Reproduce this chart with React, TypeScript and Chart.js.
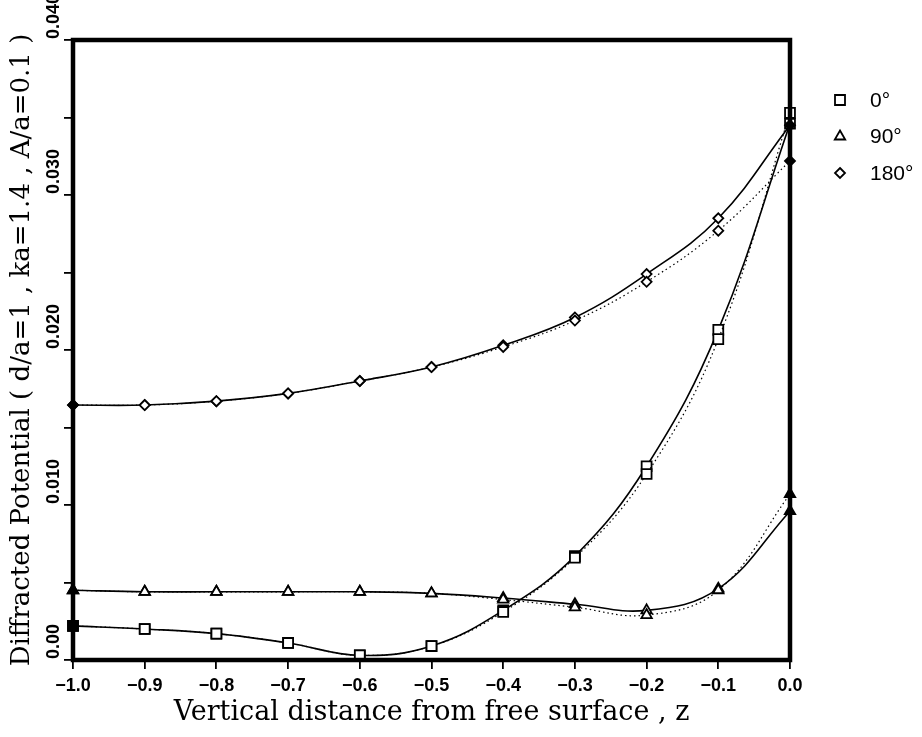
import React, { useEffect, useRef } from "react";
import { Chart, registerables } from "chart.js";

Chart.register(...registerables);

// ---- data ----
const zValues = [-1.0, -0.9, -0.8, -0.7, -0.6, -0.5, -0.4, -0.3, -0.2, -0.1, 0.0];

const deg0Solid = [0.0022, 0.002, 0.0017, 0.0011, 0.0003, 0.0009, 0.0032, 0.0067, 0.0125, 0.0213, 0.0346];
const deg0Dotted = [0.0022, 0.002, 0.0017, 0.0011, 0.0003, 0.0009, 0.0031, 0.0066, 0.012, 0.0207, 0.0353];

const deg90Solid = [0.0045, 0.0044, 0.0044, 0.0044, 0.0044, 0.0043, 0.004, 0.0036, 0.0032, 0.0046, 0.0096];
const deg90Dotted = [0.0045, 0.0044, 0.0044, 0.0044, 0.0044, 0.0043, 0.0039, 0.0034, 0.0029, 0.0045, 0.0107];

const deg180Solid = [0.01645, 0.01645, 0.0167, 0.0172, 0.018, 0.0189, 0.0203, 0.0221, 0.0249, 0.0285, 0.0345];
const deg180Dotted = [0.01645, 0.01645, 0.0167, 0.0172, 0.018, 0.0189, 0.0202, 0.0219, 0.0244, 0.0277, 0.0322];

const legendLabels = ["0°", "90°", "180°"];
const yTickValues = [0, 0.01, 0.02, 0.03, 0.04];
const yTickLabels = ["0.00", "0.010", "0.020", "0.030", "0.040"];
const xTitle = "Vertical distance from free surface , z";
const yTitle = "Diffracted Potential ( d/a=1 , ka=1.4 , A/a=0.1 )";

const TICK_FAMILY = "'Liberation Sans', Arial, sans-serif";
const YTICK_FAMILY = "'Liberation Sans Narrow', 'Liberation Sans', Arial, sans-serif";
const TITLE_FAMILY = "'DejaVu Serif', serif";

function pts(ys: number[]) {
  return zValues.map((x, i) => ({ x, y: ys[i] }));
}

function drawMarker(ctx: CanvasRenderingContext2D, style: string, x: number, y: number) {
  ctx.beginPath();
  if (style === "rect") {
    ctx.rect(x - 5, y - 5, 10, 10);
  } else if (style === "triangle") {
    ctx.moveTo(x, y - 6);
    ctx.lineTo(x + 5.2, y + 3);
    ctx.lineTo(x - 5.2, y + 3);
    ctx.closePath();
  } else {
    ctx.moveTo(x, y - 5);
    ctx.lineTo(x + 5, y);
    ctx.lineTo(x, y + 5);
    ctx.lineTo(x - 5, y);
    ctx.closePath();
  }
  ctx.fillStyle = "#fff";
  ctx.fill();
  ctx.lineWidth = 1.8;
  ctx.strokeStyle = "#000";
  ctx.stroke();
}

const framePlugin = {
  id: "frameAndLabels",
  afterDatasetsDraw(chart: any) {
    const { ctx, chartArea } = chart;
    const { left, top, right, bottom } = chartArea;
    ctx.save();
    ctx.strokeStyle = "#000";
    ctx.lineWidth = 4.5;
    ctx.strokeRect(left, top, right - left, bottom - top);
    ctx.restore();
  },
  afterDraw(chart: any) {
    const { ctx, chartArea, scales } = chart;
    const y = scales.y;
    ctx.save();
    // rotated y tick labels
    ctx.font = "bold 18px " + YTICK_FAMILY;
    ctx.fillStyle = "#000";
    ctx.textAlign = "left";
    ctx.textBaseline = "middle";
    yTickValues.forEach((v, i) => {
      const py = y.getPixelForValue(v);
      ctx.save();
      ctx.translate(chartArea.left - 19, py);
      ctx.rotate(-Math.PI / 2);
      ctx.fillText(yTickLabels[i], 1, 0);
      ctx.restore();
    });
    // legend
    const styles = ["rect", "triangle", "rectRot"];
    ctx.font = "21px 'Liberation Sans', Arial, sans-serif";
    legendLabels.forEach((lab, i) => {
      const ly = chartArea.top + 60 + i * 36.5;
      drawMarker(ctx, styles[i], chartArea.right + 50, ly);
      ctx.fillStyle = "#000";
      ctx.textAlign = "left";
      ctx.textBaseline = "middle";
      ctx.fillText(lab, chartArea.right + 80, ly + 1);
    });
    ctx.restore();
  },
};

function endFill(last: boolean) {
  return (c: any) => {
    const n = zValues.length - 1;
    if (c.dataIndex === 0) return "#000";
    if (last && c.dataIndex === n) return "#000";
    return "#fff";
  };
}

function series(data: number[], style: string, dotted: boolean, fillLast: boolean, radius: number) {
  return {
    data: pts(data),
    borderColor: "#000",
    borderWidth: dotted ? 1.2 : 1.6,
    borderDash: dotted ? [1.5, 3] : [],
    tension: 0.4,
    pointStyle: style,
    pointRadius: radius,
    pointBorderWidth: 1.8,
    pointBorderColor: "#000",
    pointBackgroundColor: endFill(fillLast),
    clip: false as any,
    fill: false,
  };
}

export default function App() {
  const ref = useRef<HTMLCanvasElement | null>(null);
  useEffect(() => {
    if (!ref.current) return;
    const chart = new Chart(ref.current, {
      type: "line",
      data: {
        datasets: [
          series(deg180Dotted, "rectRot", true, true, 5),
          series(deg180Solid, "rectRot", false, true, 5),
          series(deg0Dotted, "rect", true, false, 7),
          series(deg0Solid, "rect", false, false, 7),
          series(deg90Dotted, "triangle", true, true, 6),
          series(deg90Solid, "triangle", false, true, 6),
        ] as any,
      },
      options: {
        animation: false,
        responsive: false,
        events: [],
        layout: { padding: { left: 0, right: 132, top: 40, bottom: 0 } },
        plugins: {
          legend: { display: false },
          tooltip: { enabled: false },
        },
        scales: {
          x: {
            type: "linear",
            min: -1,
            max: 0,
            ticks: {
              stepSize: 0.1,
              color: "#000",
              font: { family: TICK_FAMILY, size: 18, weight: "bold" },
              padding: 6,
              maxRotation: 0,
              callback: (v: any) => {
                const n = Number(v);
                const s = Math.abs(n).toFixed(1);
                return n < -1e-9 ? "\u2212" + s : s;
              },
            },
            grid: { drawOnChartArea: false, drawTicks: true, tickLength: 9, color: "#000", lineWidth: 1.8 },
            border: { display: false },
            title: {
              display: true,
              text: xTitle,
              color: "#000",
              font: { family: TITLE_FAMILY, size: 27 },
              padding: { top: 0, bottom: 8 },
            },
            afterFit: (s: any) => {
              s.height = 77;
            },
          },
          y: {
            type: "linear",
            min: 0,
            max: 0.04,
            ticks: { stepSize: 0.005, display: false },
            grid: { drawOnChartArea: false, drawTicks: true, tickLength: 9, color: "#000", lineWidth: 1.8 },
            border: { display: false },
            title: {
              display: true,
              text: yTitle,
              color: "#000",
              font: { family: TITLE_FAMILY, size: 26 },
              padding: { top: 7, bottom: 0 },
            },
            afterFit: (s: any) => {
              s.width = 73;
            },
          },
        },
      } as any,
      plugins: [framePlugin],
    });
    return () => chart.destroy();
  }, []);
  return (
    <div style={{ position: "absolute", left: 0, top: 0, width: 922, height: 737, background: "#fff" }}>
      <canvas ref={ref} width={922} height={737} />
    </div>
  );
}
